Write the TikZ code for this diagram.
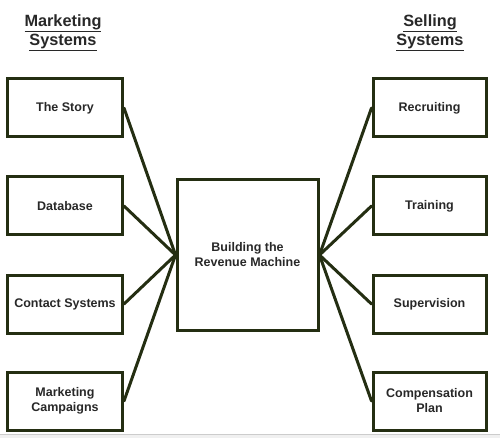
\documentclass[tikz,border=0pt]{standalone}
\usepackage{fontspec}
\setmainfont{Liberation Sans}
\definecolor{olive}{RGB}{36,46,18}
\definecolor{txt}{RGB}{40,40,40}
\begin{document}
\begin{tikzpicture}[x=1pt,y=-1pt,
  box/.style={draw=olive,line width=3pt,fill=white,inner sep=0pt,align=center,
    font=\fontsize{12.5}{15}\selectfont\bfseries,text=txt},
  head/.style={align=center,font=\fontsize{16.3}{19}\selectfont\bfseries,text=txt},
  link/.style={draw=olive,line width=3pt}]
\useasboundingbox (0,0) rectangle (500,438);
\fill[gray!12] (0,434) rectangle (500,438);
\draw[gray!40,line width=0.8pt] (0,434) -- (500,434);
\node[head] (mh) at (63,33) {\underline{Marketing}\\\underline{Systems}};
\node[head] (sh) at (430,33) {\underline{Selling}\\\underline{Systems}};
% left boxes
\node[box,minimum width=115pt,minimum height=58pt] (story) at (65,108) {The Story};
\node[box,minimum width=115pt,minimum height=58pt] (db) at (65,206) {Database};
\node[box,minimum width=115pt,minimum height=58pt] (cs) at (65,304) {Contact Systems};
\node[box,minimum width=115pt,minimum height=58pt] (mc) at (65,401) {Marketing\\Campaigns};
% right boxes
\node[box,minimum width=113pt,minimum height=58pt] (rec) at (429.5,108) {Recruiting};
\node[box,minimum width=113pt,minimum height=58pt] (tr) at (429.5,206) {Training};
\node[box,minimum width=113pt,minimum height=58pt] (sup) at (429.5,304) {Supervision};
\node[box,minimum width=113pt,minimum height=58pt] (cp) at (429.5,401) {Compensation\\Plan};
% centre
\node[box,minimum width=141pt,minimum height=150pt] (c) at (247.5,255) {Building the\\Revenue Machine};
\foreach \n in {story,db,cs,mc}{\draw[link,line cap=round] (\n.east) -- (c.west);}
\foreach \n in {rec,tr,sup,cp}{\draw[link,line cap=round] (\n.west) -- (c.east);}
\end{tikzpicture}
\end{document}
